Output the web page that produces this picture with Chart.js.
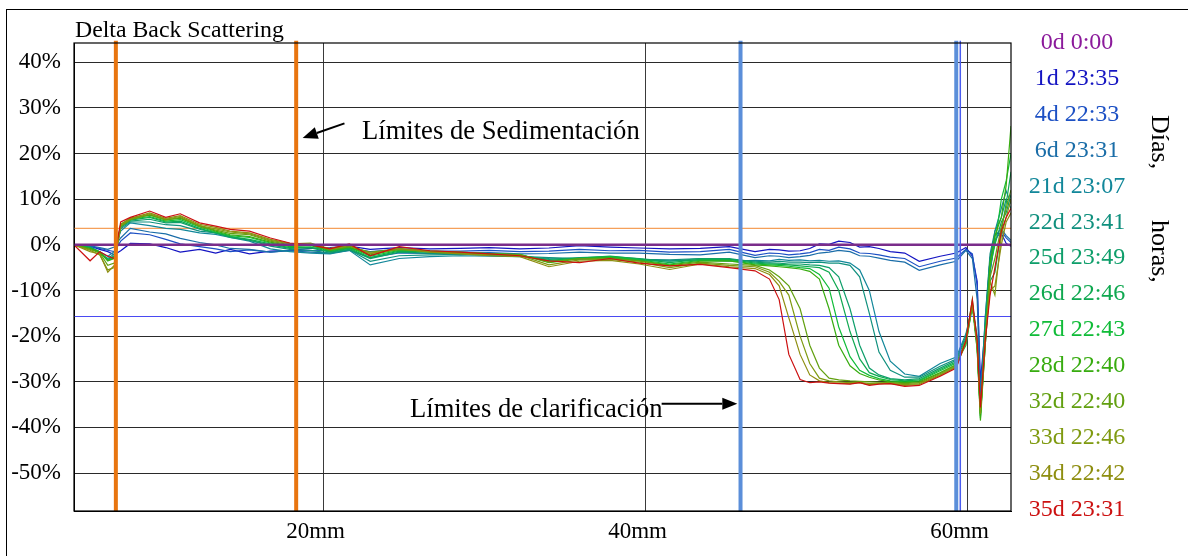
<!DOCTYPE html>
<html>
<head>
<meta charset="utf-8">
<script src="https://cdn.jsdelivr.net/npm/chart.js@4.4.1/dist/chart.umd.min.js"></script>
<style>
  body { margin: 0; background: #fff; }
  #wrap { position: relative; width: 1188px; height: 556px; overflow: hidden;
          font-family: 'Liberation Serif', 'Times New Roman', serif; color: #000; }
  #frame { position: absolute; left: 6px; top: 9px; width: 1400px; height: 800px;
           border-left: 1.5px solid #000; border-top: 1.5px solid #000; }
  #chart { position: absolute; left: 0; top: 0; }
  .txt { position: absolute; line-height: 1; white-space: nowrap; }
  #title { left: 75px; top: 18px; font-size: 23.8px; }
  #noteSed { left: 362px; top: 117px; font-size: 26.6px; }
  #noteClar { left: 410px; top: 395px; font-size: 26.6px; }
  .side { font-size: 26px; transform-origin: 0 0; transform: rotate(90deg); }
  #legend { position: absolute; left: 1020px; top: 24px; width: 114px; text-align: center;
            font-size: 24px; line-height: 35.9px; }
</style>
</head>
<body>
<div id="wrap">
  <div id="frame"></div>
  <canvas id="chart" width="1188" height="556"></canvas>
  <div class="txt" id="title">Delta Back Scattering</div>
  <div class="txt" id="noteSed">Límites de Sedimentación</div>
  <div class="txt" id="noteClar">Límites de clarificación</div>
  <div class="txt side" style="left:1173px; top:115px;">Días,</div>
  <div class="txt side" style="left:1173px; top:220px;">horas,</div>
  <div id="legend"></div>
</div>
<script>
// sample height along the tube, mm
const positionMm = [4.5, 5.5, 6.1, 6.6, 7.0, 7.4, 8.0, 9.2, 10.2, 11.1,
  12.3, 13.3, 14.2, 15.4, 16.7, 17.9, 19.2, 20.4, 21.6, 22.9,
  24.7, 26.6, 28.5, 30.3, 32.2, 34.0, 35.9, 37.8, 39.6, 41.5,
  43.4, 45.2, 46.8, 47.7, 48.3, 48.9, 49.6, 50.2, 50.8, 51.4,
  52.0, 52.7, 53.3, 53.9, 54.5, 55.2, 56.1, 57.0, 58.3, 59.3,
  59.9, 60.3, 60.6, 60.8, 61.1, 61.4, 61.7, 62.1, 62.4, 62.7];

// reference scan (delta is zero by definition)
const refPositionMm = [4.5, 62.7];
const scan0d = [0, 0];

// delta backscattering, %
const scan1d = [0, -0.3, -1.0, -1.5, -2.2, -1.3, 0.3, 0.2, -0.6, -1.6,
  -1.0, -1.8, -1.0, -2.0, -1.4, -1.2, -0.8, -0.6, -0.3, -1.0,
  -0.6, -0.9, -0.8, -0.6, -0.9, -0.7, -0.2, -0.5, -0.7, -0.9,
  -0.8, -0.4, -1.5, -1.0, -1.1, -1.4, -1.3, -0.8, 0.2, 0.1,
  0.8, 0.5, -0.5, -0.4, -0.8, -1.5, -1.8, -3.6, -2.5, -1.8,
  -0.6, -2.5, -8.0, -30.0, -18.0, -3.0, 2.4, 2.5, 0.3, -0.3];
const scan4d = [0, -0.3, -0.8, -1.2, -1.5, 0.8, 2.6, 2.2, 1.2, 0.2,
  -0.4, -0.9, -1.5, -1.1, -1.6, -1.2, -1.3, -1.2, -0.8, -1.5,
  -1.0, -1.3, -1.4, -1.2, -1.5, -1.4, -1.0, -1.3, -1.2, -1.6,
  -1.5, -1.0, -2.3, -1.8, -1.9, -2.2, -2.0, -1.7, -1.0, -1.2,
  -0.5, -0.9, -1.8, -1.9, -2.2, -2.7, -3.0, -4.8, -3.6, -2.9,
  -1.0, -2.0, -9.0, -32.0, -20.0, -6.0, 1.0, 3.0, 1.5, 0.5];
const scan6d = [0, -0.2, -0.6, -1.0, -0.5, 1.5, 3.6, 2.8, 2.4, 1.4,
  0.5, 0.0, -0.8, -1.0, -1.6, -1.3, -1.6, -1.8, -1.2, -2.8,
  -1.8, -1.9, -1.8, -1.7, -2.0, -1.9, -1.6, -1.8, -1.8, -2.1,
  -2.2, -1.6, -2.8, -2.4, -2.5, -2.8, -2.6, -2.3, -1.8, -1.6,
  -1.2, -1.5, -2.4, -2.5, -2.9, -3.4, -3.8, -5.6, -4.4, -3.6,
  -1.2, -3.0, -12.0, -34.0, -16.0, -3.0, 2.0, 3.5, 2.0, 1.0];
const scan21d = [0, -0.4, -1.5, -2.5, -1.5, 3.0, 4.8, 4.2, 3.6, 3.4,
  2.6, 2.3, 1.6, 0.8, -0.9, -1.5, -1.8, -2.0, -1.2, -4.4,
  -3.0, -2.6, -2.4, -2.5, -2.6, -3.0, -3.2, -3.0, -3.4, -3.5,
  -3.3, -3.6, -3.4, -3.5, -3.2, -3.4, -3.3, -3.5, -3.4, -3.6,
  -3.5, -4.0, -5.5, -10.0, -19.0, -25.5, -28.3, -28.8, -26.0, -24.6,
  -19.5, -13.5, -20.0, -36.0, -20.0, -6.0, 3.0, 8.0, 11.8, 9.0];
const scan22d = [0, -0.5, -1.8, -3.0, -2.0, 3.5, 5.0, 5.0, 4.4, 4.2,
  3.0, 2.6, 1.8, 1.0, -0.3, -1.0, -1.2, -1.8, -1.1, -3.6,
  -2.4, -2.2, -2.1, -2.3, -2.5, -2.8, -3.0, -2.7, -3.2, -3.3,
  -3.0, -3.2, -3.6, -3.8, -3.6, -3.8, -3.8, -3.9, -3.8, -4.0,
  -4.0, -4.5, -7.0, -15.0, -23.5, -27.5, -29.0, -29.0, -26.6, -25.0,
  -20.0, -13.0, -21.0, -36.5, -16.0, -2.0, 3.0, 6.0, 10.0, 8.0];
const scan25d = [0, -0.6, -1.6, -3.2, -2.4, 3.8, 5.2, 5.6, 4.8, 4.9,
  3.4, 2.6, 1.6, 1.0, 0.0, -0.8, -0.7, -1.6, -1.0, -3.0,
  -1.6, -1.8, -1.9, -2.2, -2.4, -3.2, -2.8, -2.6, -3.0, -3.6,
  -3.0, -3.0, -3.8, -4.0, -4.0, -4.2, -4.2, -4.4, -4.5, -5.0,
  -7.0, -14.0, -22.0, -27.0, -28.5, -29.3, -29.6, -29.3, -27.0, -25.3,
  -20.5, -13.0, -22.0, -37.0, -18.0, -3.0, 0.0, 5.0, 7.0, 11.0];
const scan26d = [0, -0.7, -1.7, -3.4, -2.6, 4.0, 5.4, 6.0, 5.0, 5.2,
  3.6, 2.6, 1.8, 1.2, 0.2, -0.6, -0.5, -1.5, -0.8, -2.8,
  -1.4, -1.6, -1.8, -2.1, -2.3, -3.4, -2.9, -2.5, -3.1, -3.9,
  -3.2, -3.2, -4.0, -4.2, -4.3, -4.4, -4.6, -4.8, -5.0, -6.0,
  -10.0, -19.0, -25.0, -28.0, -28.8, -29.5, -29.8, -29.6, -27.3, -25.6,
  -21.5, -13.5, -23.0, -37.5, -22.0, -8.0, -6.0, 3.0, 9.0, 16.0];
const scan27d = [0, -0.7, -1.6, -3.5, -2.8, 4.2, 5.6, 6.2, 5.2, 5.5,
  3.9, 2.8, 2.0, 1.6, 0.4, -0.4, -0.2, -1.3, -0.6, -2.5,
  -1.2, -1.5, -1.7, -2.0, -2.2, -3.6, -3.0, -2.6, -3.3, -4.2,
  -3.4, -3.4, -4.2, -4.4, -4.5, -4.7, -5.0, -5.2, -6.5, -9.5,
  -18.0, -24.5, -27.5, -28.6, -29.3, -29.8, -30.0, -29.8, -27.6, -25.9,
  -22.0, -13.0, -22.0, -38.0, -20.0, -5.0, 0.0, 10.0, 14.0, 20.0];
const scan28d = [0, -0.8, -1.5, -3.5, -3.0, 4.5, 5.8, 6.5, 5.5, 5.8,
  4.2, 3.0, 2.2, 1.8, 0.6, -0.2, 0.0, -1.2, -0.5, -2.2,
  -1.0, -1.4, -1.6, -1.9, -2.1, -3.9, -3.1, -2.8, -3.5, -4.4,
  -3.6, -3.5, -4.4, -4.6, -4.8, -5.0, -5.3, -5.8, -7.5, -14.0,
  -22.0, -26.5, -28.2, -29.0, -29.6, -30.0, -30.2, -30.0, -28.0, -26.2,
  -21.0, -12.0, -23.0, -38.5, -22.0, -4.0, 2.0, 6.0, 13.0, 26.0];
const scan32d = [0, -1.0, -1.8, -4.5, -4.0, 4.0, 5.5, 6.6, 5.4, 6.0,
  4.0, 3.2, 2.5, 2.2, 0.8, 0.0, 0.2, -1.1, -0.4, -1.6,
  -0.9, -1.4, -1.7, -2.0, -2.2, -3.8, -3.0, -3.0, -3.5, -4.6,
  -3.8, -4.2, -4.5, -5.5, -7.0, -9.0, -14.0, -22.0, -27.0, -29.2,
  -29.6, -29.8, -29.9, -30.0, -30.1, -30.2, -30.4, -30.2, -28.2, -26.4,
  -21.0, -13.0, -22.0, -37.0, -22.0, -7.0, -3.0, 4.0, 8.0, 12.0];
const scan33d = [0, -1.2, -2.2, -5.5, -5.0, 4.2, 5.6, 6.8, 5.6, 6.2,
  4.2, 3.5, 2.8, 2.4, 1.0, 0.2, 0.4, -1.0, -0.2, -1.8,
  -1.0, -1.5, -1.8, -2.2, -2.3, -4.4, -3.3, -3.2, -3.8, -5.0,
  -4.0, -4.5, -4.8, -6.0, -8.0, -11.0, -20.0, -26.0, -29.2, -29.8,
  -30.0, -30.2, -30.1, -30.4, -30.3, -30.3, -30.6, -30.4, -28.4, -26.6,
  -21.5, -13.0, -22.0, -37.0, -21.0, -8.0, -11.0, 2.0, 6.0, 10.0];
const scan34d = [0, -1.5, -2.0, -6.0, -4.5, 4.5, 5.8, 7.0, 5.8, 6.4,
  4.5, 3.8, 3.0, 2.6, 1.2, 0.3, 0.2, -0.8, 0.0, -2.0,
  -0.8, -1.6, -2.0, -2.4, -2.6, -4.8, -3.6, -3.4, -4.2, -5.4,
  -4.2, -4.8, -5.2, -6.5, -9.0, -16.0, -24.0, -28.5, -29.8, -30.2,
  -30.3, -30.4, -30.2, -30.6, -30.4, -30.4, -30.8, -30.6, -28.6, -26.8,
  -21.0, -12.5, -22.0, -36.0, -20.0, -10.0, -9.0, 0.0, 5.0, 7.0];
const scan35d = [0, -3.5, -1.5, -2.5, -3.0, 5.0, 6.0, 7.4, 6.0, 6.8,
  4.8, 4.1, 3.4, 3.0, 1.5, 0.4, 0.0, -0.9, 0.2, -2.4,
  -0.4, -1.3, -1.6, -2.0, -2.4, -3.5, -3.9, -3.0, -4.0, -4.6,
  -4.3, -5.0, -5.7, -7.5, -12.0, -24.0, -29.5, -30.2, -30.0, -30.3,
  -30.4, -30.5, -30.2, -30.8, -30.5, -30.4, -31.0, -30.8, -28.8, -27.0,
  -21.0, -12.0, -21.0, -35.6, -21.0, -11.0, -5.0, 3.0, 6.0, 8.0];

const scanLabels = ['0d 0:00', '1d 23:35', '4d 22:33', '6d 23:31', '21d 23:07', '22d 23:41',
  '25d 23:49', '26d 22:46', '27d 22:43', '28d 22:40', '32d 22:40', '33d 22:46',
  '34d 22:42', '35d 23:31'];
const scanColors = ['#8b1a9b', '#1414c2', '#1c50c4', '#1a6da8', '#12879a', '#10907e',
  '#0e9e6a', '#0fa850', '#10bc38', '#38ac10', '#62a010', '#7f9a10', '#8e8e10', '#cc1010'];

const yTicks = [-50, -40, -30, -20, -10, 0, 10, 20, 30, 40];
const xTicks = [20, 40, 60];

// vertical limit markers, mm
const sedimentLimitsMm = [7.1, 18.3];
const clarifLimitsMm = [45.9, 59.3];
const clarifInnerMm = [59.55];
// horizontal threshold levels, %
const upperLevel = 3.6;
const lowerLevel = -15.7;

// annotation arrows [mm, %]
const arrowTails = [[21.3, 26.6], [41.0, -34.8]];
const arrowHeads = [[18.7, 23.4], [45.7, -34.8]];

const X_MIN = 4.5, X_MAX = 62.7, Y_MIN = -58.3, Y_MAX = 44.2;
const FONT = "'Liberation Serif', 'Times New Roman', serif";

// legend list
const legendEl = document.getElementById('legend');
scanLabels.forEach((lab, i) => {
  const d = document.createElement('div');
  d.textContent = lab;
  d.style.color = scanColors[i];
  legendEl.appendChild(d);
});

const pts = (xs, ys) => xs.map((x, i) => ({ x, y: ys[i] }));

function vLine(x, color, width) {
  return {
    data: [{ x, y: Y_MIN }, { x, y: Y_MAX + 0.5 }],
    borderColor: color, borderWidth: width, pointRadius: 0, clip: false, order: 0,
  };
}
function hLine(y, color) {
  return {
    data: [{ x: X_MIN, y }, { x: X_MAX, y }],
    borderColor: color, borderWidth: 1.2, pointRadius: 0, order: 40,
  };
}

const scans = [scan1d, scan4d, scan6d, scan21d, scan22d, scan25d, scan26d,
  scan27d, scan28d, scan32d, scan33d, scan34d, scan35d];

const datasets = [];
sedimentLimitsMm.forEach(x => datasets.push(vLine(x, '#e8750f', 4)));
clarifLimitsMm.forEach(x => datasets.push(vLine(x, '#5b8ed9', 4)));
clarifInnerMm.forEach(x => datasets.push(vLine(x, '#4a5cf0', 1.5)));
datasets.push({
  label: scanLabels[0], data: pts(refPositionMm, scan0d),
  borderColor: '#7a2d8a', borderWidth: 2.5, pointRadius: 0, order: 1,
});
scans.forEach((s, i) => {
  datasets.push({
    label: scanLabels[i + 1], data: pts(positionMm, s),
    borderColor: scanColors[i + 1], borderWidth: 1.2, pointRadius: 0,
    order: 2 + (scans.length - 1 - i),
  });
});
datasets.push(hLine(upperLevel, '#f5a05a'));
datasets.push(hLine(lowerLevel, '#4a4af2'));

// box round the plot area + annotation arrows
const plotExtras = {
  id: 'plotExtras',
  afterDraw(chart) {
    const { ctx, chartArea: a, scales } = chart;
    ctx.save();
    ctx.strokeStyle = '#000';
    ctx.lineWidth = 1.2;
    ctx.strokeRect(a.left, a.top, a.right - a.left, a.bottom - a.top);

    ctx.fillStyle = '#000';
    ctx.lineWidth = 2;
    arrowTails.forEach((t, i) => {
      const x0 = scales.x.getPixelForValue(t[0]), y0 = scales.y.getPixelForValue(t[1]);
      const x1 = scales.x.getPixelForValue(arrowHeads[i][0]), y1 = scales.y.getPixelForValue(arrowHeads[i][1]);
      const ang = Math.atan2(y1 - y0, x1 - x0);
      const len = 15, half = 6;
      const bx = x1 - len * Math.cos(ang), by = y1 - len * Math.sin(ang);
      ctx.beginPath();
      ctx.moveTo(x0, y0);
      ctx.lineTo(bx, by);
      ctx.stroke();
      ctx.beginPath();
      ctx.moveTo(x1, y1);
      ctx.lineTo(bx + half * Math.sin(ang), by - half * Math.cos(ang));
      ctx.lineTo(bx - half * Math.sin(ang), by + half * Math.cos(ang));
      ctx.closePath();
      ctx.fill();
    });
    ctx.restore();
  },
};

new Chart(document.getElementById('chart'), {
  type: 'line',
  data: { datasets },
  options: {
    responsive: false,
    animation: false,
    devicePixelRatio: 1,
    layout: { padding: { top: 43, right: 177, left: 0, bottom: 0 } },
    elements: { line: { tension: 0 } },
    plugins: { legend: { display: false }, tooltip: { enabled: false } },
    scales: {
      x: {
        type: 'linear', min: X_MIN, max: X_MAX,
        afterBuildTicks: s => { s.ticks = xTicks.map(v => ({ value: v })); },
        afterFit: s => { s.height = 45; },
        grid: { color: '#3a3a3a', lineWidth: 1, drawTicks: false },
        border: { display: true, color: '#000' },
        ticks: {
          padding: 7, labelOffset: -8, maxRotation: 0, color: '#000',
          font: { family: FONT, size: 23 },
          callback: v => v + 'mm',
        },
      },
      y: {
        type: 'linear', min: Y_MIN, max: Y_MAX,
        afterBuildTicks: s => { s.ticks = yTicks.map(v => ({ value: v })); },
        afterFit: s => { s.width = 74; },
        grid: { color: '#2a2a2a', lineWidth: 1, drawTicks: false },
        border: { display: true, color: '#000' },
        ticks: {
          padding: 13, color: '#000',
          font: { family: FONT, size: 23 },
          callback: v => v + '%',
        },
      },
    },
  },
  plugins: [plotExtras],
});
</script>
</body>
</html>
